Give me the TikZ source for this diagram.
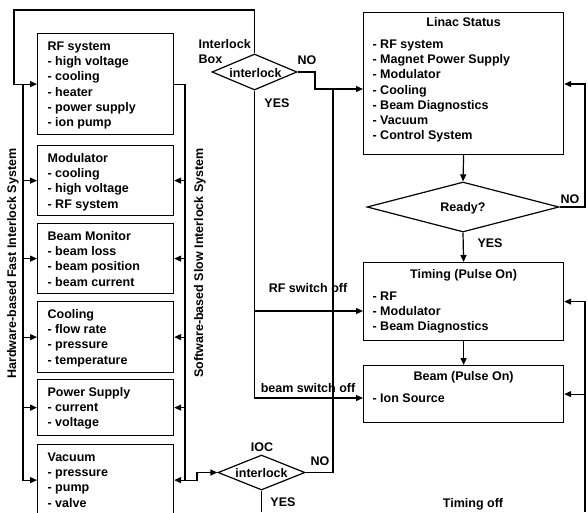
\documentclass[tikz,border=0pt]{standalone}
\usepackage{fontspec}
\setmainfont{Liberation Sans}
\usetikzlibrary{arrows.meta,shapes.geometric,calc}
\newcommand\mylines[1]{\begin{tabular}[t]{@{}l@{}}#1\end{tabular}}
\begin{document}
\begin{tikzpicture}[x=1pt,y=-1pt,
  font=\fontsize{12.5}{15.2}\selectfont\bfseries,
  line width=1.2pt,
  box/.style={draw, rectangle, inner sep=0pt, anchor=north west},
  arr/.style={-{Triangle[length=7pt,width=6pt]}},
  txt/.style={inner sep=0pt, anchor=base west, align=left},
  lbl/.style={inner sep=0pt},
  dia/.style={draw, diamond, inner sep=0pt, shape aspect=1}]
\useasboundingbox (0,0) rectangle (588,512);

% left column boxes
\node[box, minimum width=136pt, minimum height=101pt] (rf) at (37,33) {};
\node[box, minimum width=136pt, minimum height=70pt] (mod) at (37,145) {};
\node[box, minimum width=136pt, minimum height=70pt] (bm) at (37,223) {};
\node[box, minimum width=136pt, minimum height=71pt] (cool) at (37,301) {};
\node[box, minimum width=136pt, minimum height=56pt] (ps) at (37,379) {};
\node[box, minimum width=136pt, minimum height=71pt] (vac) at (37,444) {};

\node[txt] (rft) at ($(rf.north west)+(10,17.5)$) {\mylines{RF system\\- high voltage\\- cooling\\- heater\\- power supply\\- ion pump}};
\node[txt] (modt) at ($(mod.north west)+(10,17.5)$) {\mylines{Modulator\\- cooling\\- high voltage\\- RF system}};
\node[txt] (bmt) at ($(bm.north west)+(10,17.5)$) {\mylines{Beam Monitor\\- beam loss\\- beam position\\- beam current}};
\node[txt] (coolt) at ($(cool.north west)+(10,17.5)$) {\mylines{Cooling\\- flow rate\\- pressure\\- temperature}};
\node[txt] (pst) at ($(ps.north west)+(10,17.5)$) {\mylines{Power Supply\\- current\\- voltage}};
\node[txt] (vact) at ($(vac.north west)+(10,17.5)$) {\mylines{Vacuum\\- pressure\\- pump\\- valve}};

% right column boxes
\node[box, minimum width=200pt, minimum height=142pt] (linac) at (363,12) {};
\node[box, minimum width=200pt, minimum height=78pt] (timing) at (363,262) {};
\node[box, minimum width=200pt, minimum height=57pt] (beam) at (363,365) {};

\node[lbl, anchor=base] (lint) at ($(linac.north)+(0,14.5)$) {Linac Status};
\node[txt] (linl) at ($(linac.north west)+(9,36.5)$) {\mylines{- RF system\\- Magnet Power Supply\\- Modulator\\- Cooling\\- Beam Diagnostics\\- Vacuum\\- Control System}};
\node[lbl, anchor=base] (timt) at ($(timing.north)+(0,16.5)$) {Timing (Pulse On)};
\node[txt] (timl) at ($(timing.north west)+(9,38.5)$) {\mylines{- RF\\- Modulator\\- Beam Diagnostics}};
\node[lbl, anchor=base] (beat) at ($(beam.north)+(0,15.5)$) {Beam (Pulse On)};
\node[txt] (beal) at ($(beam.north west)+(9,37.5)$) {\mylines{- Ion Source}};

% diamonds
\node[dia, minimum width=85pt, minimum height=36pt] (d1) at (254.5,72) {};
\node[lbl] (d1t) at ($(d1.center)+(1,1)$) {interlock};
\node[dia, minimum width=87pt, minimum height=35pt] (d2) at (261.5,472.5) {};
\node[lbl] (d2t) at ($(d2.center)+(0,0.5)$) {interlock};
\node[dia, minimum width=192pt, minimum height=50pt] (d3) at (463,207) {};
\node[lbl] (d3t) at ($(d3.center)+(0,1)$) {Ready?};

% coordinates
\coordinate (lb) at (23,0);
\coordinate (rb) at (185,0);
\coordinate (kk) at (197,0);
\coordinate (tl) at (14,10);
\coordinate (n1) at (315,89);
\coordinate (n2) at (333,89);
\coordinate (rfoff) at (0,311);
\coordinate (bmoff) at (0,398);
\coordinate (bot) at (0,512);
\coordinate (rr) at (585,0);
\coordinate (lin84) at (0,84);

% hardware fast interlock (left bus)
\draw[arr] (d1.north) |- (tl) |- (rf.west);
\draw[arr] (rf.west -| lb) |- (vac.west);
\foreach \b in {mod,bm,cool,ps} \draw[arr] (\b.west -| lb) -- (\b.west);

% software slow interlock (right bus)
\draw (rf.east) -| (vac.east -| rb);
\foreach \b in {mod,bm,cool,ps,vac} \draw[arr] (\b.east -| rb) -- (\b.east);
\draw[arr] (vac.east -| rb) -- (vac.east -| kk) |- (d2.west);

% interlock outputs
\draw[arr] (d1.east) -| (n1) -- (n1 -| linac.west);
\draw (d2.east) -| (n2);
\draw[arr] (d1.south) |- (bmoff -| beam.west);
\draw[arr] (d1.south |- rfoff) -- (rfoff -| timing.west);
\draw (d2.south) -- (d2.south |- bot);

% main flow
\draw[arr] (linac.south) -- (d3.north);
\draw[arr] (d3.south) -- (timing.north);
\draw[arr] (timing.south) -- (beam.north);
\draw[arr] (d3.east) -| (rr |- lin84) -- (lin84 -| linac.east);
\draw[arr] (rr |- bot) |- (timing.east);
\draw[arr] (beam.east -| rr) -- (beam.east);

% labels
\node[lbl, anchor=base west] (ilb) at (198,48.5) {\mylines{Interlock\\Box}};
\node[lbl] (no1) at (307,60) {NO};
\node[lbl] (yes1) at (277,103) {YES};
\node[lbl] (ioc) at (262,447) {IOC};
\node[lbl] (no2) at (320,461) {NO};
\node[lbl] (yes2) at (283,502) {YES};
\node[lbl] (no3) at (570,199) {NO};
\node[lbl] (yes3) at (490,243) {YES};
\node[lbl, anchor=base] (rfo) at (308,292.5) {RF switch off};
\node[lbl, anchor=base] (bmo) at (308,392.5) {beam switch off};
\node[lbl, anchor=base] (tof) at (473,507.5) {Timing off};
\node[lbl, rotate=90] (hw) at (13,263.5) {Hardware-based Fast Interlock System};
\node[lbl, rotate=90] (sw) at (200,263) {Software-based Slow Interlock System};
\end{tikzpicture}
\end{document}
